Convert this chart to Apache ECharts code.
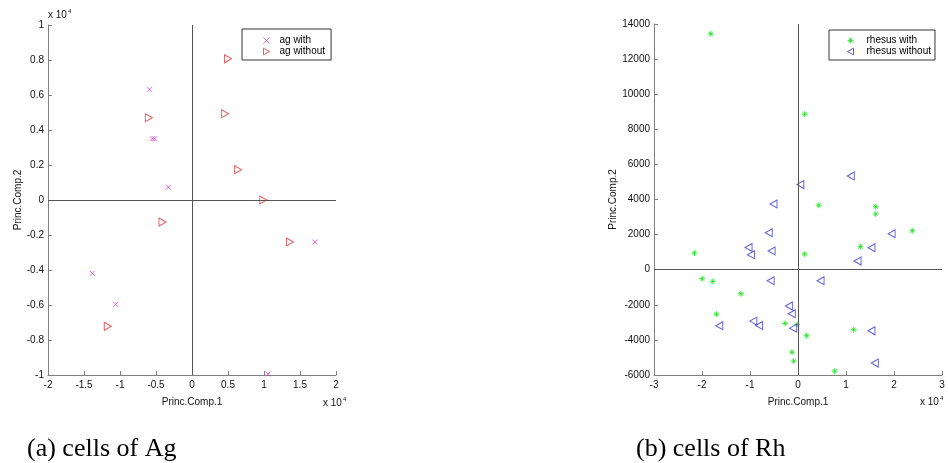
<!DOCTYPE html>
<html>
<head>
<meta charset="utf-8">
<script src="https://cdn.jsdelivr.net/npm/echarts@6/dist/echarts.min.js"></script>
<style>
html,body{margin:0;padding:0;background:#fff;}
#c{width:948px;height:463px;}
</style>
</head>
<body>
<div id="c"></div>
<script>
// ---- data (raw units; x axes display in units of 1e4) ----
var agWithX = [-5900, -5500, -5200, -3300, -13850, -10600, 17070, 10570];
var agWithY = [6330, 3500, 3500, 730, -4190, -5960, -2400, -9940];
var agWithoutX = [5000, -6000, 4600, 6400, 9900, -4100, 13600, -11700];
var agWithoutY = [8070, 4700, 4930, 1730, 0, -1260, -2400, -7220];

var rhWithX = [-18170, 1390, 4310, 16200, 16200, 23800, 13000, 1390, -21570, -19970, -17750, -11900, -17000, -2700, -200, 1800, -1250, -900, 7640, 11600];
var rhWithY = [13440, 8860, 3670, 3590, 3175, 2220, 1310, 890, 950, -510, -665, -1370, -2530, -3060, -3120, -3760, -4700, -5210, -5780, -3420];
var rhWithoutX = [500, 11000, -5100, -6100, -10300, -9800, -5500, 19500, 15300, 12400, -5700, 4700, -1900, -1300, -9300, -8100, -16400, -1000, 15300, 16000];
var rhWithoutY = [4850, 5340, 3745, 2110, 1270, 855, 1065, 2050, 1255, 495, -630, -630, -2070, -2510, -2930, -3175, -3190, -3330, -3480, -5320];

var seriesNames = ['ag with', 'ag without', 'rhesus with', 'rhesus without'];
var captions = ['(a) cells of Ag', '(b) cells of Rh'];
var axisNames = ['Princ.Comp.1', 'Princ.Comp.2'];

function zip(xs, ys) { return xs.map(function (x, i) { return [x, ys[i]]; }); }

var xPath = 'path://M0,0L10,10M10,0L0,10';
var starPath = 'path://M5,0L5,10M0,5L10,5M1.6,1.6L8.4,8.4M8.4,1.6L1.6,8.4';
var triRight = 'path://M0,0L9,5L0,10Z';
var triLeft = 'path://M9,0L0,5L9,10Z';

var FONT = 'Liberation Sans, Arial, sans-serif';
var axisColor = '#808080';

function mkX(idx, min, max, interval, scale) {
  return {
    gridIndex: idx, type: 'value', min: min, max: max, interval: interval,
    name: axisNames[0], nameLocation: 'middle', nameGap: 22,
    nameTextStyle: { fontFamily: FONT, fontSize: 10, color: '#111' },
    axisLine: { onZero: false, lineStyle: { color: axisColor } },
    axisTick: { inside: true, length: 4, lineStyle: { color: axisColor } },
    axisLabel: { fontFamily: FONT, fontSize: 10, color: '#111', margin: 5,
      formatter: function (v) { return String(v / scale); } },
    splitLine: { show: false }
  };
}
function mkY(idx, min, max, interval, scale, gap) {
  return {
    gridIndex: idx, type: 'value', min: min, max: max, interval: interval,
    name: axisNames[1], nameLocation: 'middle', nameGap: gap,
    nameTextStyle: { fontFamily: FONT, fontSize: 10, color: '#111' },
    axisLine: { onZero: false, lineStyle: { color: axisColor } },
    axisTick: { inside: true, length: 4, lineStyle: { color: axisColor } },
    axisLabel: { fontFamily: FONT, fontSize: 10, color: '#111', margin: 4,
      formatter: function (v) { return String(v / scale); } },
    splitLine: { show: false }
  };
}
var zeroLines = {
  silent: true, symbol: 'none', animation: false,
  label: { show: false },
  lineStyle: { color: '#555', type: 'solid', width: 1 },
  data: [{ xAxis: 0 }, { yAxis: 0 }]
};
function mkLegend(names, left, top, padding, textPad) {
  return {
    data: names, orient: 'vertical', left: left, top: top,
    backgroundColor: '#fff', borderColor: '#333', borderWidth: 1, borderRadius: 0,
    padding: padding, itemWidth: 6, itemHeight: 7, itemGap: 0,
    itemStyle: { borderWidth: 1 },
    textStyle: { fontFamily: FONT, fontSize: 10, color: '#000', padding: textPad, lineHeight: 11, height: 11 }
  };
}

var chart = echarts.init(document.getElementById('c'), null, { renderer: 'canvas' });
chart.setOption({
  animation: false,
  backgroundColor: '#fff',
  grid: [
    { left: 48, top: 25, width: 288, height: 350 },
    { left: 654, top: 24, width: 288, height: 351 }
  ],
  xAxis: [mkX(0, -20000, 20000, 5000, 10000), mkX(1, -30000, 30000, 10000, 10000)],
  yAxis: [mkY(0, -10000, 10000, 2000, 10000, 25), mkY(1, -6000, 14000, 2000, 1, 35)],
  legend: [
    mkLegend([seriesNames[0], seriesNames[1]], 242, 29, [6, 6, 3, 21], [0, 0, 0, 5]),
    mkLegend([seriesNames[2], seriesNames[3]], 829, 30, [5, 4, 3, 18], [0, 0, 0, 8])
  ],
  series: [
    { name: seriesNames[0], type: 'scatter', xAxisIndex: 0, yAxisIndex: 0,
      data: zip(agWithX, agWithY), symbol: xPath, symbolSize: 5,
      itemStyle: { color: 'transparent', borderColor: '#e040e0', borderWidth: 1 },
      markLine: zeroLines, z: 3 },
    { name: seriesNames[1], type: 'scatter', xAxisIndex: 0, yAxisIndex: 0,
      data: zip(agWithoutX, agWithoutY), symbol: triRight, symbolSize: [7, 8],
      itemStyle: { color: 'transparent', borderColor: '#e03838', borderWidth: 1 }, z: 3 },
    { name: seriesNames[2], type: 'scatter', xAxisIndex: 1, yAxisIndex: 1,
      data: zip(rhWithX, rhWithY), symbol: starPath, symbolSize: 6,
      itemStyle: { color: 'transparent', borderColor: '#1ee01e', borderWidth: 1 },
      markLine: zeroLines, z: 3 },
    { name: seriesNames[3], type: 'scatter', xAxisIndex: 1, yAxisIndex: 1,
      data: zip(rhWithoutX, rhWithoutY), symbol: triLeft, symbolSize: [7, 8],
      itemStyle: { color: 'transparent', borderColor: '#3a3ad0', borderWidth: 1 }, z: 3 }
  ],
  graphic: [
    { type: 'text', left: 48, top: 8, style: { text: '{a|x 10}{b|4}', rich: {
        a: { fontFamily: FONT, fontSize: 10, fill: '#111' },
        b: { fontFamily: FONT, fontSize: 6, fill: '#111', padding: [0, 0, 8, 1] } } } },
    { type: 'text', left: 323, top: 396, style: { text: '{a|x 10}{b|4}', rich: {
        a: { fontFamily: FONT, fontSize: 10, fill: '#111' },
        b: { fontFamily: FONT, fontSize: 6, fill: '#111', padding: [0, 0, 8, 1] } } } },
    { type: 'text', left: 920, top: 395, style: { text: '{a|x 10}{b|4}', rich: {
        a: { fontFamily: FONT, fontSize: 10, fill: '#111' },
        b: { fontFamily: FONT, fontSize: 6, fill: '#111', padding: [0, 0, 8, 1] } } } },
    { type: 'text', left: 27, top: 436, style: { text: captions[0],
        font: '26px "Liberation Serif", "Times New Roman", serif', fill: '#000' } },
    { type: 'text', left: 636, top: 436, style: { text: captions[1],
        font: '26px "Liberation Serif", "Times New Roman", serif', fill: '#000' } }
  ]
});
</script>
</body>
</html>
